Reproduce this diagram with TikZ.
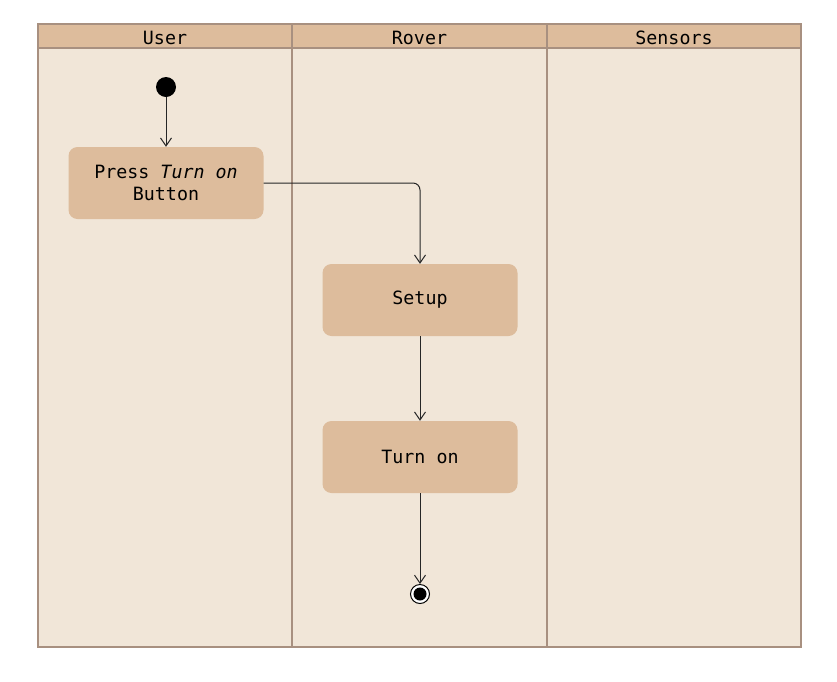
\documentclass[tikz,border=0pt]{standalone}
\usepackage{fontspec}
\setmonofont{DejaVu Sans Mono}
\usepackage{tikz}
\usetikzlibrary{arrows.meta}
\definecolor{lanehead}{HTML}{DDBC9C}
\definecolor{lanebody}{HTML}{F1E6D8}
\definecolor{laneline}{HTML}{A89080}
\pgfkeys{tikz/action/.style={rectangle, rounded corners=9pt, fill=lanehead,
                                 minimum width=195pt, minimum height=72pt,
                                 align=center, font=\ttfamily\fontsize{18.3}{22}\selectfont}}
\pgfkeys{tikz/flow/.style={draw=black!85, line width=1pt,
                               -{Straight Barb[length=8pt,width=11pt]}}}
\pgfkeys{tikz/lanetitle/.style={font=\ttfamily\fontsize{18.3}{22}\selectfont}}

\begin{document}
\begin{tikzpicture}[x=1pt, y=-1pt]
                \useasboundingbox (0,0) rectangle (837,681);

                % lanes
                \fill[lanebody] (38,24) rectangle (801,647);
                \fill[lanehead] (38,24) rectangle (801,48);
                \draw[laneline, line width=1.6pt] (38,24) rectangle (801,647);
                \draw[laneline, line width=1.6pt] (38,48) -- (801,48);
                \draw[laneline, line width=1.6pt] (292,24) -- (292,647);
                \draw[laneline, line width=1.6pt] (547,24) -- (547,647);

                \node[lanetitle] (user) at (165,37.5) {User};
                \node[lanetitle] (rover) at (419.5,37.5) {Rover};
                \node[lanetitle] (sensors) at (674,37.5) {Sensors};

                % activities
                \node[circle, fill=black, inner sep=0pt, minimum size=20pt] (start) at (166,87) {};
                \node[action] (press) at (166,183) {Press \textit{Turn on}\\Button};
                \node[action] (setup) at (420,300) {Setup};
                \node[action] (turnon) at (420,457) {Turn on};
                \node[circle, draw=black, line width=1pt, fill=white, inner sep=0pt, minimum size=19pt,
                      path picture={\fill[black] (path picture bounding box.center) circle (6.5pt);}] (stop) at (420,594) {};

                \draw[flow] (start) -- (press);
                \draw[flow, rounded corners=7pt] (press.east) -| (setup.north);
                \draw[flow] (setup) -- (turnon);
                \draw[flow] (turnon) -- (stop);

            \end{tikzpicture}
\end{document}
